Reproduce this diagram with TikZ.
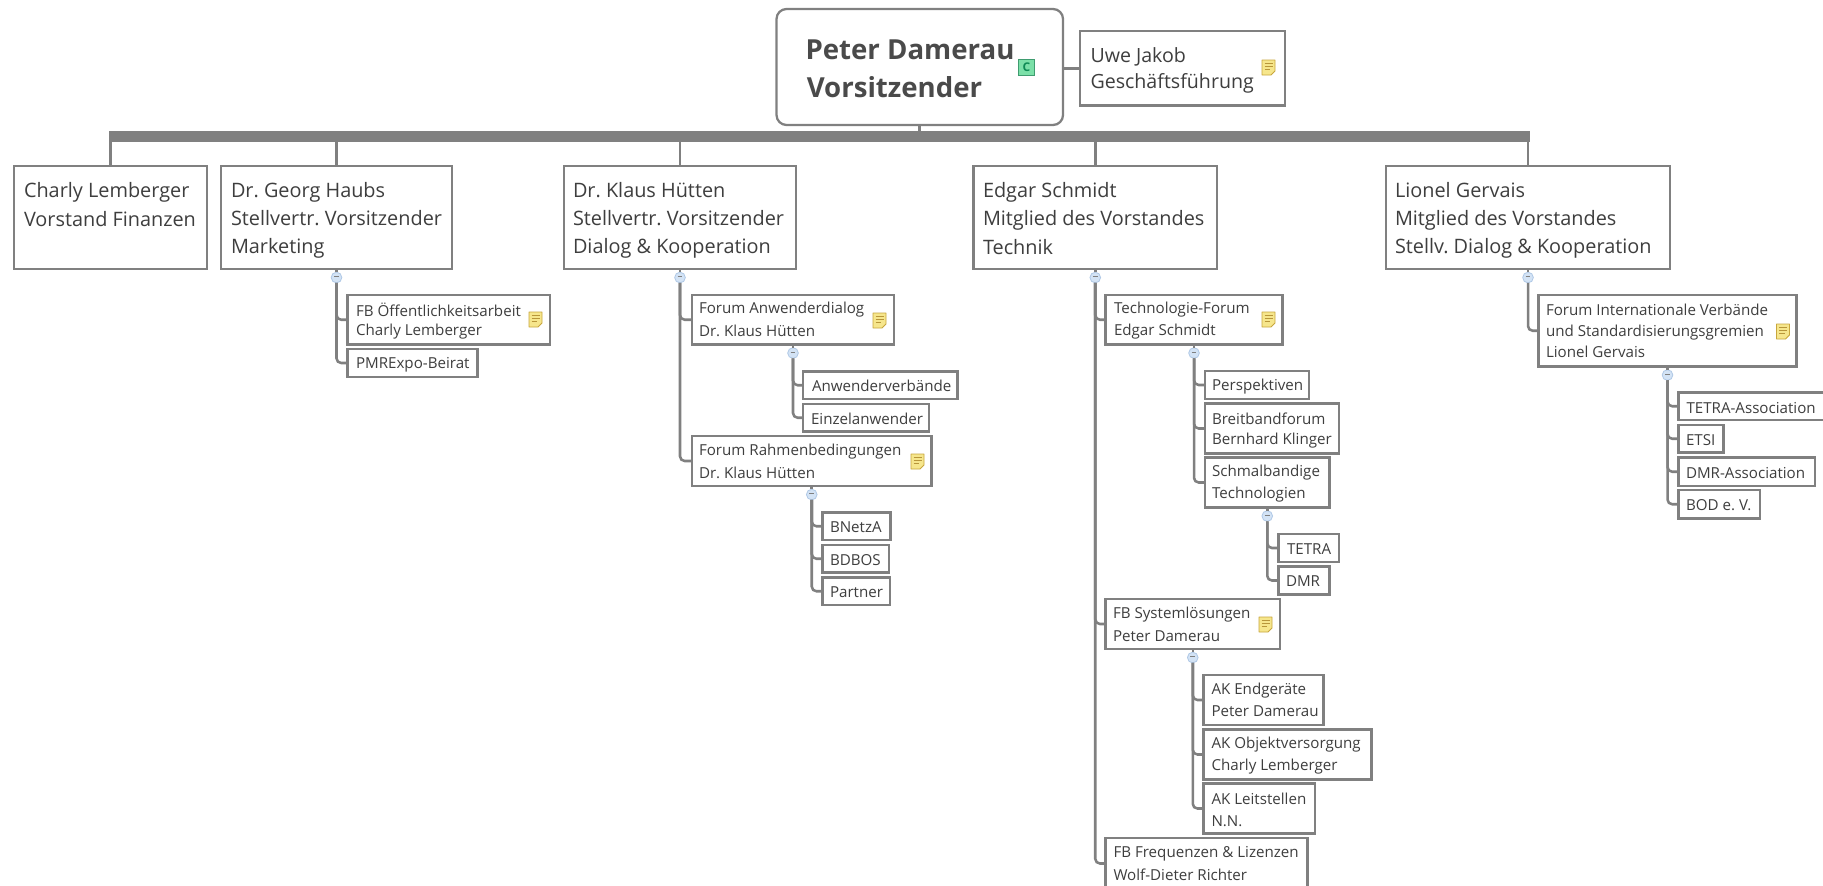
\documentclass[tikz,border=0pt]{standalone}
\usepackage{fontspec}
\setmainfont{Open Sans}
\definecolor{linegray}{HTML}{808080}
\definecolor{inkgray}{HTML}{3E3E3E}
\definecolor{rootink}{HTML}{4A4A4A}
\definecolor{noteyellow}{HTML}{F6E68C}
\definecolor{noteedge}{HTML}{C8A63C}
\definecolor{notelines}{HTML}{B8963A}
\definecolor{minusfill}{HTML}{D3E3F5}
\definecolor{minusedge}{HTML}{AFC8E6}
\definecolor{cgreen}{HTML}{7BE0A8}
\definecolor{cedge}{HTML}{3F9C70}
\definecolor{cink}{HTML}{0E8A55}
\tikzset{
  boxst/.style={draw=linegray,line width=1.9pt,fill=white,inner sep=0pt,outer sep=0pt,text=inkgray,anchor=center},
  rootst/.style={rounded corners=7.5pt,line width=1.7pt,text=rootink,font=\fontsize{20.7pt}{24pt}\selectfont\bfseries},
  bigst/.style={font=\fontsize{14.9pt}{18pt}\selectfont},
  uwest/.style={font=\fontsize{14.7pt}{18pt}\selectfont,line width=1.7pt},
  smallst/.style={font=\fontsize{11.35pt}{14pt}\selectfont},
  conn/.style={draw=linegray,line width=1.9pt,rounded corners=3.5pt},
  bar/.style={fill=linegray,inner sep=0pt,outer sep=0pt,anchor=center},
  mincirc/.style={circle,draw=minusedge,fill=minusfill,line width=0.6pt,minimum size=8pt,inner sep=0pt,outer sep=0pt,text=linegray},
  ciconst/.style={draw=cedge,fill=cgreen,line width=0.6pt,inner sep=0pt,outer sep=0pt,minimum size=12pt,text=cink,font=\fontsize{9pt}{9pt}\selectfont\bfseries},
}
\def\bxgetbox#1,#2,#3,#4;{\def\bxXa{#1}\def\bxYa{#2}\def\bxXb{#3}\def\bxYb{#4}}
\def\bxgettext#1,#2,#3;{\def\bxTx{#1}\def\bxTb{#2}\def\bxTl{#3}}
% \bx[style]{name}{x0,y0,x1,y1}{text x,first baseline,leading}{lines separated by \par}
\newcommand{\bx}[5][]{%
  \bxgetbox#3;\bxgettext#4;%
  \pgfmathsetmacro\bxW{(\bxXb-\bxXa)*0.75}%
  \pgfmathsetmacro\bxH{(\bxYb-\bxYa)*0.75}%
  \pgfmathsetmacro\bxL{(\bxTx-\bxXa)*0.75}%
  \pgfmathsetmacro\bxD{(\bxTb-\bxYa)*0.75}%
  \pgfmathsetmacro\bxS{\bxTl*0.75}%
  \node[boxst,#1,minimum width=\bxW pt,minimum height=\bxH pt] (#2) at ({(\bxXa+\bxXb)/2},{(\bxYa+\bxYb)/2})
   {\vbox to \bxH pt{\frenchspacing\hsize=\bxW pt\parindent=0pt\parskip=0pt\leftskip=\bxL pt\rightskip=-80pt\parfillskip=0pt plus 1fil\baselineskip=\bxS pt\lineskiplimit=-100pt\hyphenpenalty=10000\noindent\rule{0pt}{\bxD pt}#5\par\vss}};%
}
\newcommand{\noteicon}[2]{%
  \begin{scope}[shift={(#1,#2)}]
    \filldraw[fill=noteyellow,draw=noteedge,line width=0.6pt,line join=round] (0,0) -- (13,0) -- (13,11) -- (9,15) -- (0,15) -- cycle;
    \draw[notelines,line width=0.6pt] (2.5,3.5) -- (10.5,3.5) (2.5,6.5) -- (10.5,6.5) (2.5,9.5) -- (8,9.5);
  \end{scope}}
\newcommand{\mn}[3][6.4pt]{\node[mincirc] (#2) at ([yshift=-#1]#3.south) {\rule[0.15em]{3.6pt}{0.7pt}};\draw[conn] (#3.south) -- (#2.north);}
\begin{document}
\begin{tikzpicture}[x=0.75pt,y=-0.75pt]
\useasboundingbox (0,0) rectangle (1823,885);
\fill[white] (0,0) rectangle (1823,885);
\clip (0,0) rectangle (1823,885);

\node[bar,minimum width=1065.75pt,minimum height=8.6pt] (topbar) at (819.5,136.75) {};

\bx[rootst]{root}{776.5,9,1063,125}{805.5,59,38}{Peter Damerau\par\hspace{1pt}Vorsitzender}
\bx[uwest]{uwe}{1080,31,1285,105.5}{1090.5,62,26.5}{Uwe Jakob\par Geschäftsführung}
\bx[bigst]{charly}{14,166,207,269}{24,197,29}{Charly Lemberger\par Vorstand Finanzen}
\bx[bigst]{georg}{221,166,452,269}{231,197,28}{Dr. Georg Haubs\par Stellvertr. Vorsitzender\par Marketing}
\bx[bigst]{klaus}{564,166,796,269}{573,197,28}{Dr. Klaus Hütten\par Stellvertr. Vorsitzender\par Dialog \& Kooperation}
\bx[bigst]{edgar}{973.5,166,1217,269}{983,197,28.5}{Edgar Schmidt\par Mitglied des Vorstandes\par Technik}
\bx[bigst]{lionel}{1386,166,1670,269}{1395,197,28}{Lionel Gervais\par Mitglied des Vorstandes\par Stellv. Dialog \& Kooperation}

\draw[conn] (root.south) -- (root.south |- topbar.north);
\draw[conn] (root.east |- uwe.west) -- (uwe.west);
\foreach \b in {charly,georg,klaus,edgar,lionel} {\draw[conn] (\b.north) -- (\b.north |- topbar.south);}

% Georg
\bx[smallst]{fboeff}{347.5,295,550,344.5}{356,316.5,19}{FB Öffentlichkeitsarbeit\par Charly Lemberger}
\bx[smallst]{pmr}{347.5,349,477.5,377}{356,368,19}{PMRExpo-Beirat}
\mn{mgeorg}{georg}
\draw[conn] (mgeorg.south) |- (pmr.west);
\draw[conn] (mgeorg.south) |- (fboeff.west);

% Klaus
\bx[smallst]{fanw}{692,295,894,344.5}{699,313,23.5}{Forum Anwenderdialog\par Dr. Klaus Hütten}
\bx[smallst]{anwv}{803,371.5,957.5,399}{812,391.5,19}{Anwenderverbände}
\bx[smallst]{einz}{803,404,929,431.5}{811,424,19}{Einzelanwender}
\bx[smallst]{frahm}{692,436,931.5,486}{699,455,23.5}{Forum Rahmenbedingungen\par Dr. Klaus Hütten}
\bx[smallst]{bnetza}{822.5,512.5,890.5,540}{830,532.5,19}{BNetzA}
\bx[smallst]{bdbos}{822.5,545,889,572.5}{830,565,19}{BDBOS}
\bx[smallst]{partner}{822.5,577.5,890,605}{830,597.5,19}{Partner}
\mn{mklaus}{klaus}
\draw[conn] (mklaus.south) |- (frahm.west);
\draw[conn] (mklaus.south) |- (fanw.west);
\mn{mfanw}{fanw}
\draw[conn] (mfanw.south) |- (einz.west);
\draw[conn] (mfanw.south) |- (anwv.west);
\mn{mfrahm}{frahm}
\draw[conn] (mfrahm.south) |- (partner.west);
\draw[conn] (mfrahm.south) |- (bdbos.west);
\draw[conn] (mfrahm.south) |- (bnetza.west);

% Edgar
\bx[smallst]{tech}{1105.5,295,1282.5,344.5}{1114,313,22.5}{Technologie-Forum\par Edgar Schmidt}
\bx[smallst]{persp}{1205,371,1309,399}{1212,390.5,19}{Perspektiven}
\bx[smallst]{breit}{1205,403.5,1339,453.5}{1212,424,20.5}{Breitbandforum\par Bernhard Klinger}
\bx[smallst]{schmal}{1205,457.5,1329.5,507.5}{1212,476.5,22}{Schmalbandige\par Technologien}
\bx[smallst]{tetra}{1278.5,534,1339,562}{1287,554.5,19}{TETRA}
\bx[smallst]{dmr}{1278.5,566.5,1329.5,594.5}{1286,586.5,19}{DMR}
\bx[smallst]{fbsys}{1105.5,599,1280,649}{1113,618.5,22.5}{FB Systemlösungen\par Peter Damerau}
\bx[smallst]{akend}{1203.5,675,1323.5,725}{1211.5,694,22.5}{AK Endgeräte\par Peter Damerau}
\bx[smallst]{akobj}{1203.5,729.5,1371.5,779.5}{1211.5,748.5,22}{AK Objektversorgung\par Charly Lemberger}
\bx[smallst]{akleit}{1203.5,783.5,1315,833.5}{1211.5,804,22}{AK Leitstellen\par N.N.}
\bx[smallst]{fbfreq}{1105.5,838,1307.5,889}{1113.5,857,23}{FB Frequenzen \& Lizenzen\par Wolf-Dieter Richter}
\mn{medgar}{edgar}
\draw[conn] (medgar.south) |- (fbfreq.west);
\draw[conn] (medgar.south) |- (fbsys.west);
\draw[conn] (medgar.south) |- (tech.west);
\mn{mtech}{tech}
\draw[conn] (mtech.south) |- (schmal.west);
\draw[conn] (mtech.south) |- (breit.west);
\draw[conn] (mtech.south) |- (persp.west);
\mn{mschmal}{schmal}
\draw[conn] (mschmal.south) |- (dmr.west);
\draw[conn] (mschmal.south) |- (tetra.west);
\mn{mfbsys}{fbsys}
\draw[conn] (mfbsys.south) |- (akleit.west);
\draw[conn] (mfbsys.south) |- (akobj.west);
\draw[conn] (mfbsys.south) |- (akend.west);

% Lionel
\bx[smallst]{fint}{1538.5,295,1796.5,366.5}{1546,315.5,21}{Forum Internationale Verbände\par und Standardisierungsgremien\par Lionel Gervais}
\bx[smallst]{tetraa}{1678.5,392.5,1830,420}{1686.5,413,19}{TETRA-Association}
\bx[smallst]{etsi}{1678.5,425,1723.5,452.5}{1686,445.5,19}{ETSI}
\bx[smallst]{dmra}{1678.5,457.5,1815,486}{1686,478,19}{DMR-Association}
\bx[smallst]{bod}{1678.5,490,1760,518.5}{1686,510.5,19}{BOD e. V.}
\mn{mlionel}{lionel}
\draw[conn] (mlionel.south) |- (fint.west);
\mn{mfint}{fint}
\draw[conn] (mfint.south) |- (bod.west);
\draw[conn] (mfint.south) |- (dmra.west);
\draw[conn] (mfint.south) |- (etsi.west);
\draw[conn] (mfint.south) |- (tetraa.west);

\node[ciconst] (cicon) at (1026.5,67.5) {C};
\noteicon{1262}{60}
\noteicon{529}{312}
\noteicon{873}{313}
\noteicon{911}{454}
\noteicon{1262}{312}
\noteicon{1259}{617}
\noteicon{1776.5}{324}
\end{tikzpicture}
\end{document}
